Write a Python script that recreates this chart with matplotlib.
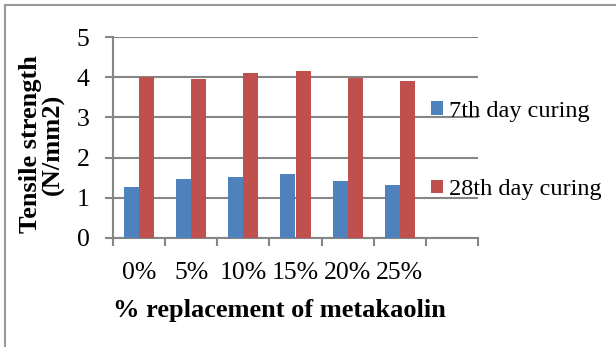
import matplotlib.pyplot as plt
import numpy as np
from matplotlib.lines import Line2D

# data
categories = ['0%', '5%', '10%', '15%', '20%', '25%']
day7 = [1.26, 1.47, 1.51, 1.60, 1.41, 1.32]
day28 = [4.01, 3.95, 4.10, 4.15, 3.98, 3.90]
series_names = ['7th day curing', '28th day curing']
yticks = [0, 1, 2, 3, 4, 5]

plt.rcParams['font.family'] = ['Liberation Serif', 'DejaVu Serif']

W, H = 616, 347
fig = plt.figure(figsize=(W / 100, H / 100), dpi=100)
ax = fig.add_axes([113 / W, 1 - 238 / H, (478 - 113) / W, (238 - 37) / H])

grey = '#868686'
n_slots = len(categories) + 1   # chart has an empty last slot
x = np.arange(len(categories))
w = 0.29
b1 = ax.bar(x - w / 2, day7, w, color='#4F81BD', label=series_names[0], zorder=3)
b2 = ax.bar(x + w / 2, day28, w, color='#C0504D', label=series_names[1], zorder=3)

ax.set_xlim(-0.5, n_slots - 0.5)
ax.set_ylim(0, 5)
ax.set_yticks(yticks)
ax.yaxis.grid(True, color=grey, linewidth=1.5, zorder=0)
ax.set_axisbelow(True)

# ticks at category boundaries, labels at centres
ax.set_xticks(np.arange(n_slots + 1) - 0.5)
ax.set_xticklabels([])
ax.set_xticks(x, minor=True)
ax.set_xticklabels(categories, minor=True, fontsize=18.5)
ax.tick_params(axis='x', which='minor', length=0, pad=17)
ax.tick_params(axis='x', which='major', length=6, width=1.5, color=grey)
ax.tick_params(axis='y', length=6, width=1.5, color=grey, labelsize=18.5, pad=11)

for s in ['top', 'right']:
    ax.spines[s].set_visible(False)
for s in ['left', 'bottom']:
    ax.spines[s].set_color(grey)
    ax.spines[s].set_linewidth(1.5)

fig.text(279 / W, 1 - 311 / H, '% replacement of metakaolin', fontsize=19,
         fontweight='bold', ha='center', va='center')
fig.text(42 / W, 1 - 144 / H, 'Tensile strength\n(N/mm2)', fontsize=19,
         fontweight='bold', ha='center', va='center', rotation=90,
         linespacing=1.0)

fig.legend(handles=[b1, b2], loc='upper left', bbox_to_anchor=(431 / W, 1 - 101 / H),
           frameon=False, fontsize=17.5, handlelength=0.5, handleheight=0.5,
           handletextpad=0.25, labelspacing=2.35, borderpad=0, borderaxespad=0)

# thin frame lines at top and left edge of the picture
fig.add_artist(Line2D([5 / W, 5 / W], [0, 1 - 5 / H], color='#999999', linewidth=1.5))
fig.add_artist(Line2D([5 / W, 1], [1 - 5 / H, 1 - 5 / H], color='#999999', linewidth=1.5))

fig.savefig('out.png', dpi=100)
